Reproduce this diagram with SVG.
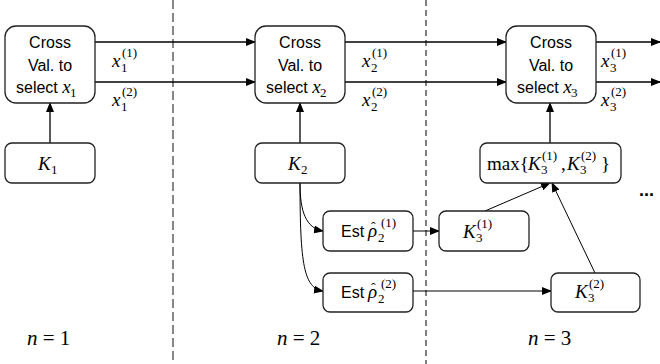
<svg xmlns="http://www.w3.org/2000/svg" width="660" height="364" viewBox="0 0 660 364">
<defs>
<marker id="ah" markerUnits="userSpaceOnUse" markerWidth="10" markerHeight="8" refX="9" refY="4" orient="auto">
<path d="M0,0 L10,4 L0,8 Z" fill="#000"/>
</marker>
<style>
.box{fill:#fff;stroke:#222;stroke-width:1.3}
.t{font-family:"Liberation Sans",Arial,sans-serif;font-size:16px;font-style:normal;fill:#000}
.m{font-family:"Liberation Serif","Times New Roman",serif;font-style:italic;font-size:19px;fill:#000}
.r{font-family:"Liberation Serif","Times New Roman",serif;font-style:normal;font-size:19px;fill:#000}
.s{font-family:"Liberation Serif","Times New Roman",serif;font-style:normal;font-size:13px;fill:#000}
.hat{font-family:"Liberation Serif","Times New Roman",serif;font-style:normal;font-size:14px;fill:#000}
.n{font-size:21px}
.c{fill:none;stroke:#000;stroke-width:1.3}
.c2{fill:none;stroke:#000;stroke-width:1}
</style>
</defs>
<rect width="660" height="364" fill="#fff"/>
<g id="dividers">
<line x1="173" y1="0" x2="173" y2="364" stroke="#555" stroke-width="1.4" stroke-dasharray="9,4"/>
<line x1="426" y1="0" x2="426" y2="364" stroke="#000" stroke-width="1" stroke-dasharray="6,4"/>
</g>
<g id="connectors">
<line class="c" x1="95" y1="42" x2="255" y2="42" marker-end="url(#ah)"/>
<line class="c" x1="95" y1="82" x2="255" y2="82" marker-end="url(#ah)"/>
<line class="c" x1="345" y1="42" x2="506" y2="42" marker-end="url(#ah)"/>
<line class="c" x1="345" y1="82" x2="506" y2="82" marker-end="url(#ah)"/>
<line class="c" x1="596" y1="42" x2="660" y2="42" marker-end="url(#ah)"/>
<line class="c" x1="596" y1="82" x2="660" y2="82" marker-end="url(#ah)"/>
<line class="c" x1="50" y1="143" x2="50" y2="103" marker-end="url(#ah)"/>
<line class="c" x1="300" y1="143" x2="300" y2="103" marker-end="url(#ah)"/>
<line class="c" x1="550" y1="143" x2="550" y2="103" marker-end="url(#ah)"/>
<path class="c2" d="M300,183 C300,212 306,228 323,231" marker-end="url(#ah)"/>
<path class="c2" d="M300,183 C300,265 304,288 323,291" marker-end="url(#ah)"/>
<line class="c2" x1="413" y1="231" x2="439" y2="231" marker-end="url(#ah)"/>
<line class="c2" x1="413" y1="291" x2="551" y2="291" marker-end="url(#ah)"/>
<line class="c2" x1="485" y1="211" x2="550" y2="183" marker-end="url(#ah)"/>
<line class="c2" x1="595" y1="273" x2="552" y2="183" marker-end="url(#ah)"/>
</g>
<g id="cv1">
<rect class="box" x="5" y="26" width="90" height="77" rx="11"/>
<text class="t" x="50" y="48" text-anchor="middle">Cross</text>
<text class="t" x="50" y="71" text-anchor="middle">Val. to</text>
<text class="t" x="16" y="93">select <tspan class="m">x</tspan></text>
<text class="s" x="70" y="97">1</text>
</g>
<g id="cv2">
<rect class="box" x="255" y="26" width="90" height="77" rx="11"/>
<text class="t" x="300" y="48" text-anchor="middle">Cross</text>
<text class="t" x="300" y="71" text-anchor="middle">Val. to</text>
<text class="t" x="266" y="93">select <tspan class="m">x</tspan></text>
<text class="s" x="320" y="97">2</text>
</g>
<g id="cv3">
<rect class="box" x="506" y="26" width="90" height="77" rx="11"/>
<text class="t" x="551" y="48" text-anchor="middle">Cross</text>
<text class="t" x="551" y="71" text-anchor="middle">Val. to</text>
<text class="t" x="517" y="93">select <tspan class="m">x</tspan></text>
<text class="s" x="571" y="97">3</text>
</g>
<g id="labels">
<text class="m" x="112" y="67">x</text><text class="s" x="121" y="72">1</text><text class="s" x="122" y="57">(1)</text>
<text class="m" x="112" y="106">x</text><text class="s" x="121" y="111">1</text><text class="s" x="122" y="96">(2)</text>
<text class="m" x="362" y="67">x</text><text class="s" x="371" y="72">2</text><text class="s" x="372" y="57">(1)</text>
<text class="m" x="362" y="106">x</text><text class="s" x="371" y="111">2</text><text class="s" x="372" y="96">(2)</text>
<text class="m" x="601" y="67">x</text><text class="s" x="610" y="72">3</text><text class="s" x="611" y="57">(1)</text>
<text class="m" x="601" y="106">x</text><text class="s" x="610" y="111">3</text><text class="s" x="611" y="96">(2)</text>
</g>
<g id="k1">
<rect class="box" x="5" y="143" width="90" height="40" rx="7"/>
<text class="m" x="38" y="170">K</text><text class="s" x="51" y="174">1</text>
</g>
<g id="k2">
<rect class="box" x="255" y="143" width="90" height="40" rx="7"/>
<text class="m" x="288" y="170">K</text><text class="s" x="301" y="174">2</text>
</g>
<g id="maxk">
<rect class="box" x="480" y="143" width="141" height="40" rx="7"/>
<text class="r" x="487" y="170">max{</text>
<text class="m" x="528" y="170">K</text><text class="s" x="541" y="174">3</text><text class="s" x="542" y="160">(1)</text>
<text class="r" x="561" y="170">,</text>
<text class="m" x="567" y="170">K</text><text class="s" x="580" y="174">3</text><text class="s" x="581" y="160">(2)</text>
<text class="r" x="601" y="170">}</text>
</g>
<g id="est1">
<rect class="box" x="323" y="211" width="90" height="40" rx="7"/>
<text class="t" x="341" y="237">Est</text>
<text class="m" x="368" y="237">ρ<tspan class="hat" x="371" y="232">ˆ</tspan></text><text class="s" x="378" y="242">2</text><text class="s" x="381" y="227">(1)</text>
</g>
<g id="est2">
<rect class="box" x="323" y="273" width="90" height="39" rx="7"/>
<text class="t" x="341" y="298">Est</text>
<text class="m" x="368" y="298">ρ<tspan class="hat" x="371" y="293">ˆ</tspan></text><text class="s" x="378" y="303">2</text><text class="s" x="381" y="288">(2)</text>
</g>
<g id="k31">
<rect class="box" x="439" y="211" width="90" height="40" rx="7"/>
<text class="m" x="463" y="238">K</text><text class="s" x="476" y="242">3</text><text class="s" x="477" y="228">(1)</text>
</g>
<g id="k32">
<rect class="box" x="551" y="273" width="89" height="39" rx="7"/>
<text class="m" x="575" y="298">K</text><text class="s" x="588" y="302">3</text><text class="s" x="589" y="288">(2)</text>
</g>
<g id="stages">
<text class="m n" x="27" y="345">n<tspan class="r n"> = 1</tspan></text>
<text class="m n" x="277" y="345">n<tspan class="r n"> = 2</tspan></text>
<text class="m n" x="528" y="345">n<tspan class="r n"> = 3</tspan></text>
</g>
<text x="639" y="196" font-family="Liberation Sans,Arial,sans-serif" font-size="18" font-weight="bold" fill="#000">...</text>
</svg>
